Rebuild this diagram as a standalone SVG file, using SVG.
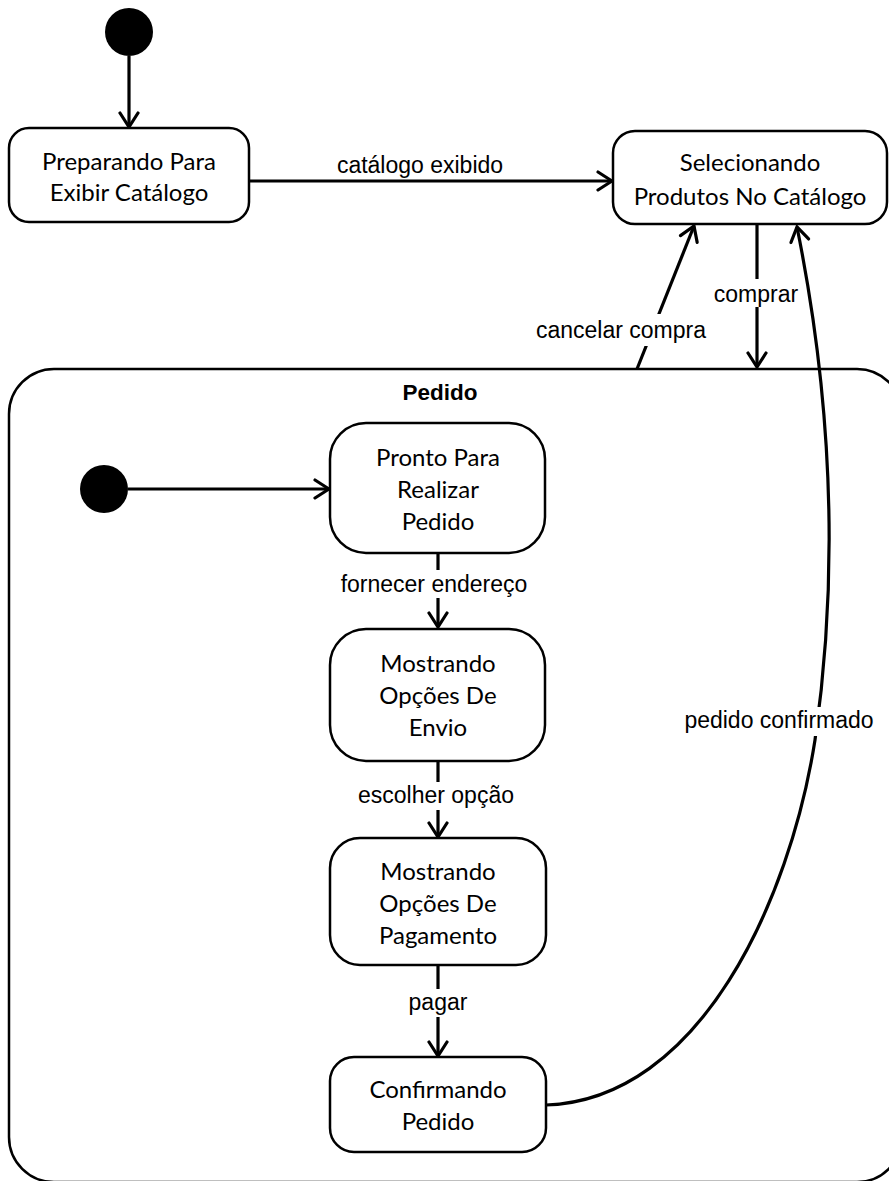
<svg xmlns="http://www.w3.org/2000/svg" width="889" height="1181" viewBox="0 0 889 1181">
<style>
.box{fill:#fff;stroke:#000;stroke-width:2.5}
.comp{fill:#fff;stroke:#000;stroke-width:2.5}
.init{fill:#000}
.edge{fill:none;stroke:#000;stroke-width:3.2}
.nt{font-family:Lato,"Liberation Sans",sans-serif;font-size:24px;fill:#000;text-anchor:middle}
.lbl{font-family:"Liberation Sans",Arial,sans-serif;font-size:23px;fill:#000;text-anchor:middle}
.bg{fill:#fff}
</style>
<defs>
<marker id="arr" markerUnits="userSpaceOnUse" viewBox="0 0 18 22" markerWidth="18" markerHeight="22" refX="16" refY="11" orient="auto">
<path d="M2,2 L16,11 L2,20" fill="none" stroke="#000" stroke-width="3.2" stroke-linecap="round" stroke-linejoin="miter"/>
</marker>
</defs>
<g id="composite-pedido">
<rect class="comp" x="9" y="369" width="893" height="813" rx="45" ry="45"/>
<text x="440" y="400" font-family="Liberation Sans,Arial,sans-serif" font-size="22.5" font-weight="bold" text-anchor="middle">Pedido</text>
</g>
<g id="initial-top"><circle class="init" cx="129" cy="32" r="24"/></g>
<g id="initial-pedido"><circle class="init" cx="104" cy="489" r="24"/></g>
<g id="node-preparando">
<rect class="box" x="9" y="128" width="240" height="94" rx="20"/>
<text class="nt" x="129" y="170">Preparando Para</text>
<text class="nt" x="129" y="201">Exibir Catálogo</text>
</g>
<g id="node-selecionando">
<rect class="box" x="613" y="131" width="274" height="93" rx="22"/>
<text class="nt" x="750" y="171">Selecionando</text>
<text class="nt" x="750" y="205">Produtos No Catálogo</text>
</g>
<g id="node-pronto">
<rect class="box" x="330" y="423" width="215" height="130" rx="36"/>
<text class="nt" x="438" y="466">Pronto Para</text>
<text class="nt" x="438" y="498">Realizar</text>
<text class="nt" x="438" y="530">Pedido</text>
</g>
<g id="node-envio">
<rect class="box" x="330" y="629" width="215" height="132" rx="36"/>
<text class="nt" x="438" y="672">Mostrando</text>
<text class="nt" x="438" y="704">Opções De</text>
<text class="nt" x="438" y="736">Envio</text>
</g>
<g id="node-pagamento">
<rect class="box" x="330" y="838" width="216" height="127" rx="30"/>
<text class="nt" x="438" y="880">Mostrando</text>
<text class="nt" x="438" y="912">Opções De</text>
<text class="nt" x="438" y="944">Pagamento</text>
</g>
<g id="node-confirmando">
<rect class="box" x="330" y="1057" width="216" height="95" rx="24"/>
<text class="nt" x="438" y="1098">Confirmando</text>
<text class="nt" x="438" y="1130">Pedido</text>
</g>
<g id="connectors">
<line class="edge" x1="129" y1="56" x2="129" y2="127" marker-end="url(#arr)"/>
<line class="edge" x1="249" y1="181" x2="612" y2="181" marker-end="url(#arr)"/>
<line class="edge" x1="757" y1="224" x2="757" y2="367" marker-end="url(#arr)"/>
<line class="edge" x1="637" y1="369" x2="694" y2="226" marker-end="url(#arr)"/>
<path class="edge" d="M546,1105 C700,1100 790,900 815,740 C835,600 838,430 797,227" marker-end="url(#arr)"/>
<line class="edge" x1="128" y1="489" x2="329" y2="489" marker-end="url(#arr)"/>
<line class="edge" x1="438" y1="553" x2="438" y2="627" marker-end="url(#arr)"/>
<line class="edge" x1="438" y1="761" x2="438" y2="837" marker-end="url(#arr)"/>
<line class="edge" x1="438" y1="965" x2="438" y2="1056" marker-end="url(#arr)"/>
<g id="labels">
<text class="lbl" x="420" y="173">catálogo exibido</text>
<rect class="bg" x="712" y="279" width="88" height="28"/>
<text class="lbl" x="756" y="302">comprar</text>
<rect class="bg" x="533" y="314" width="176" height="32"/>
<text class="lbl" x="621" y="338">cancelar compra</text>
<rect class="bg" x="680" y="707" width="198" height="29"/>
<text class="lbl" x="779" y="728">pedido confirmado</text>
<rect class="bg" x="336" y="570" width="196" height="28"/>
<text class="lbl" x="434" y="592">fornecer endereço</text>
<rect class="bg" x="354" y="782" width="164" height="28"/>
<text class="lbl" x="436" y="803">escolher opção</text>
<rect class="bg" x="406" y="989" width="64" height="28"/>
<text class="lbl" x="438" y="1010">pagar</text>
</g>
</g>
</svg>
